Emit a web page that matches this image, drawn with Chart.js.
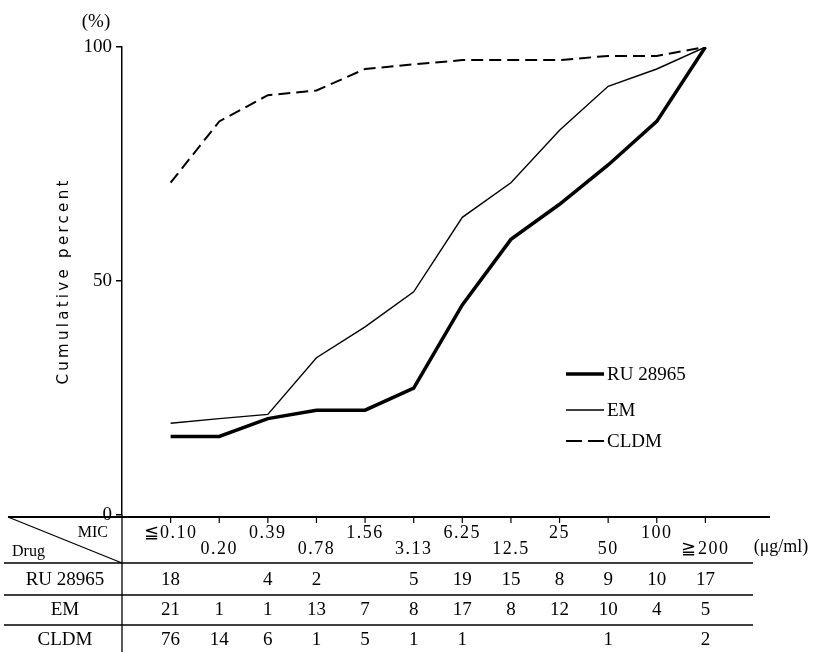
<!DOCTYPE html>
<html>
<head>
<meta charset="utf-8">
<script src="https://cdn.jsdelivr.net/npm/chart.js@4/dist/chart.umd.min.js"></script>
<style>
  html, body { margin: 0; padding: 0; background: #fff; }
  #wrap { width: 819px; height: 652px; }
</style>
</head>
<body>
<div id="wrap"><canvas id="mic" width="819" height="652"></canvas></div>
<script>
// MIC categories (µg/ml)
const micLabels = ['≦0.10', '0.20', '0.39', '0.78', '1.56', '3.13', '6.25', '12.5', '25', '50', '100', '≧200'];

// cumulative percent
const ruPercent = [16.8, 16.8, 20.6, 22.4, 22.4, 27.1, 44.9, 58.9, 66.4, 74.8, 84.1, 100];
const emPercent = [19.6, 20.6, 21.5, 33.6, 40.2, 47.7, 63.6, 71.0, 82.2, 91.6, 95.3, 100];
const cldmPercent = [71.0, 84.1, 89.7, 90.7, 95.3, 96.3, 97.2, 97.2, 97.2, 98.1, 98.1, 100];

// number of strains per MIC (table under the chart)
const ruCounts = [18, null, 4, 2, null, 5, 19, 15, 8, 9, 10, 17];
const emCounts = [21, 1, 1, 13, 7, 8, 17, 8, 12, 10, 4, 5];
const cldmCounts = [76, 14, 6, 1, 5, 1, 1, null, null, 1, null, 2];

const drugNames = ['RU 28965', 'EM', 'CLDM'];
const yTicks = [0, 50, 100];

const serif = '"Liberation Serif", "DejaVu Serif", serif';

const toPoints = arr => arr.map((v, i) => ({ x: i, y: v }));

// draws the MIC table, legend and the extra axis texts
const tablePlugin = {
    id: 'micTable',
    afterDraw(chart) {
        const ctx = chart.ctx;
        const xs = chart.scales.x;
        const area = chart.chartArea;
        const col = i => xs.getPixelForValue(i);
        ctx.save();
        ctx.strokeStyle = '#000';
        ctx.fillStyle = '#000';

        // (%) and axis title
        ctx.font = '19px ' + serif;
        ctx.textAlign = 'center';
        ctx.textBaseline = 'middle';
        ctx.fillText('(%)', 96, 22);

        ctx.save();
        ctx.translate(64, (area.top + area.bottom) / 2);
        ctx.rotate(-Math.PI / 2);
        ctx.font = '15px "DejaVu Sans", sans-serif';
        ctx.letterSpacing = '3.3px';
        ctx.fillText('Cumulative percent', 0, 0);
        ctx.restore();

        // table lines
        const top = area.bottom + 2;
        ctx.lineWidth = 2;
        ctx.beginPath();
        ctx.moveTo(8, top); ctx.lineTo(770, top);
        ctx.stroke();
        ctx.lineWidth = 1.2;
        ctx.beginPath();
        for (let i = 0; i < micLabels.length; i++) {
            ctx.moveTo(col(i), top); ctx.lineTo(col(i), top + 6);
        }
        ctx.stroke();
        const rowLines = [563, 595, 625];
        ctx.lineWidth = 1.3;
        ctx.beginPath();
        rowLines.forEach(y => { ctx.moveTo(4, y); ctx.lineTo(753, y); });
        ctx.moveTo(area.left, area.bottom); ctx.lineTo(area.left, 652);
        ctx.moveTo(8, top); ctx.lineTo(area.left, 563);
        ctx.stroke();

        // header
        ctx.font = '16px ' + serif;
        ctx.textAlign = 'right';
        ctx.fillText('MIC', 108, 533);
        ctx.textAlign = 'left';
        ctx.fillText('Drug', 12, 552);

        ctx.font = '18px ' + serif;
        ctx.textAlign = 'center';
        ctx.letterSpacing = '1.5px';
        micLabels.forEach((t, i) => {
            ctx.fillText(t, col(i), i % 2 === 0 ? 533 : 549);
        });
        ctx.letterSpacing = '0px';
        ctx.fillText('(μg/ml)', 781, 547);

        // counts
        ctx.font = '19px ' + serif;
        const rows = [ruCounts, emCounts, cldmCounts];
        const rowY = [580, 610, 640];
        rows.forEach((counts, r) => {
            ctx.fillText(drugNames[r], 65, rowY[r]);
            counts.forEach((c, i) => {
                if (c !== null) ctx.fillText(String(c), col(i), rowY[r]);
            });
        });

        // legend
        const legendY = [374, 410, 441];
        ctx.textAlign = 'left';
        chart.data.datasets.forEach((ds, k) => {
            ctx.lineWidth = ds.borderWidth;
            ctx.setLineDash(ds.borderDash.length ? [16, 6] : []);
            ctx.beginPath();
            ctx.moveTo(566, legendY[k]);
            ctx.lineTo(604, legendY[k]);
            ctx.stroke();
            ctx.setLineDash([]);
            ctx.fillText(ds.label, 607, legendY[k] + 1);
        });
        ctx.restore();
    }
};

new Chart(document.getElementById('mic'), {
    type: 'line',
    data: {
        datasets: [
            { label: drugNames[0], data: toPoints(ruPercent), borderColor: '#000', borderWidth: 3.5, borderDash: [] },
            { label: drugNames[1], data: toPoints(emPercent), borderColor: '#000', borderWidth: 1.4, borderDash: [] },
            { label: drugNames[2], data: toPoints(cldmPercent), borderColor: '#000', borderWidth: 2, borderDash: [12, 6] }
        ]
    },
    options: {
        responsive: false,
        animation: false,
        elements: { point: { radius: 0 }, line: { tension: 0 } },
        layout: { padding: { top: 47, right: 65, bottom: 137, left: 0 } },
        plugins: { legend: { display: false }, tooltip: { enabled: false } },
        scales: {
            x: { type: 'linear', min: -1, max: 12, display: false },
            y: {
                min: 0,
                max: 100,
                afterBuildTicks: s => { s.ticks = yTicks.map(v => ({ value: v })); },
                afterFit: s => { s.width = 122; },
                ticks: { color: '#000', font: { family: serif, size: 19 }, padding: 4 },
                grid: { drawOnChartArea: false, color: '#000', tickLength: 6, lineWidth: 1.5 },
                border: { color: '#000', width: 1.5 }
            }
        }
    },
    plugins: [tablePlugin]
});
</script>
</body>
</html>
